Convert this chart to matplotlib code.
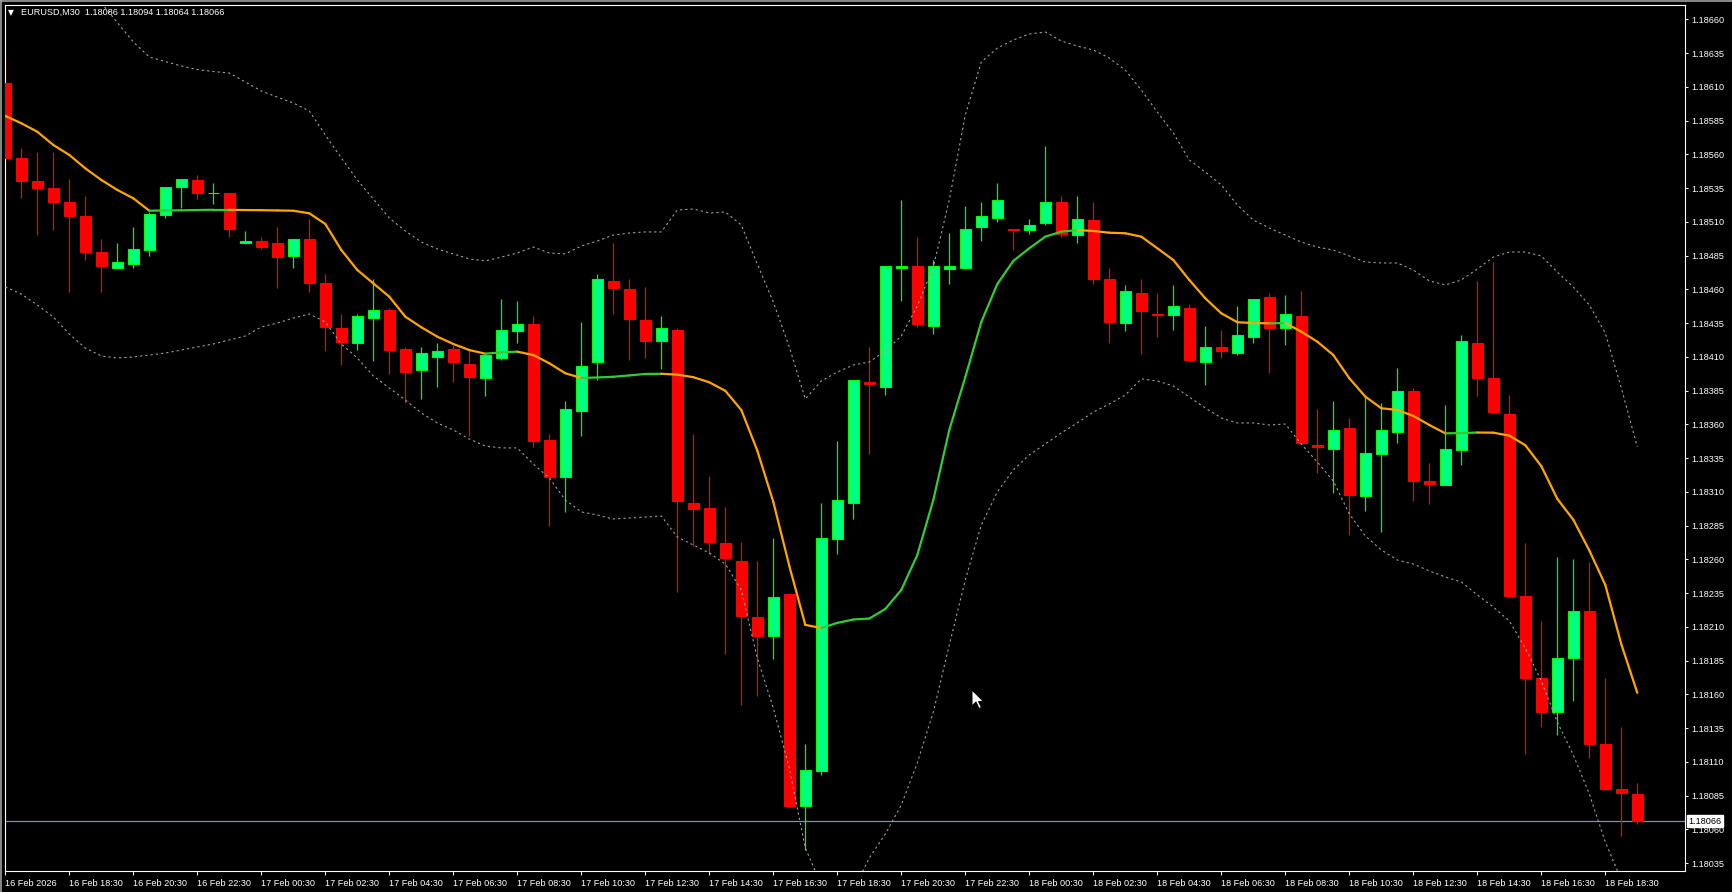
import matplotlib
matplotlib.use('Agg')
import matplotlib.pyplot as plt
from matplotlib.collections import LineCollection
from matplotlib.lines import Line2D
from matplotlib.patches import Polygon
import matplotlib.transforms as mtransforms
import numpy as np

plt.rcParams['font.family'] = ['Liberation Sans', 'DejaVu Sans']
plt.rcParams['lines.scale_dashes'] = False

symbol_title = "EURUSD,M30"

opens = [1.18613,1.18557,1.18540,1.18535,1.18525,1.18514,1.18488,1.18476,1.18479,1.18489,
         1.18515,1.18536,1.18541,1.18531,1.18531,1.18494,1.18496,1.18494,1.18485,1.18497,
         1.18465,1.18431,1.18420,1.18439,1.18445,1.18416,1.18400,1.18410,1.18416,1.18405,
         1.18394,1.18409,1.18429,1.18434,1.18348,1.18321,1.18370,1.18406,1.18466,1.18460,
         1.18437,1.18422,1.18430,1.18302,1.18298,1.18272,1.18259,1.18217,1.18203,1.18234,
         1.18077,1.18103,1.18275,1.18302,1.18391,1.18388,1.18476,1.18477,1.18433,1.18475,
         1.18476,1.18506,1.18513,1.18505,1.18504,1.18509,1.18525,1.18500,1.18511,1.18468,
         1.18435,1.18457,1.18442,1.18441,1.18446,1.18406,1.18417,1.18413,1.18425,1.18454,
         1.18431,1.18440,1.18345,1.18342,1.18357,1.18307,1.18338,1.18354,1.18385,1.18318,
         1.18315,1.18341,1.18420,1.18394,1.18368,1.18233,1.18172,1.18147,1.18187,1.18222,
         1.18123,1.18090,1.18086]

highs = [1.18631,1.18565,1.18562,1.18562,1.18542,1.18529,1.18497,1.18494,1.18506,1.18517,
         1.18536,1.18542,1.18545,1.18539,1.18531,1.18503,1.18499,1.18506,1.18497,1.18512,
         1.18471,1.18442,1.18442,1.18468,1.18446,1.18417,1.18417,1.18420,1.18419,1.18415,
         1.18413,1.18453,1.18451,1.18440,1.18353,1.18377,1.18436,1.18471,1.18494,1.18468,
         1.18462,1.18440,1.18431,1.18353,1.18322,1.18299,1.18273,1.18259,1.18276,1.18235,
         1.18123,1.18302,1.18348,1.18393,1.18417,1.18477,1.18526,1.18499,1.18482,1.18502,
         1.18522,1.18525,1.18539,1.18505,1.18512,1.18566,1.18529,1.18529,1.18525,1.18476,
         1.18463,1.18468,1.18457,1.18463,1.18449,1.18433,1.18430,1.18448,1.18453,1.18457,
         1.18456,1.18459,1.18371,1.18377,1.18365,1.18381,1.18376,1.18402,1.18387,1.18331,
         1.18374,1.18426,1.18466,1.18480,1.18382,1.18272,1.18214,1.18262,1.18260,1.18258,
         1.18172,1.18136,1.18094]

lows = [1.18526,1.18528,1.18500,1.18504,1.18458,1.18482,1.18458,1.18476,1.18476,1.18485,
        1.18513,1.18520,1.18527,1.18523,1.18499,1.18494,1.18490,1.18461,1.18476,1.18458,
        1.18414,1.18404,1.18415,1.18407,1.18397,1.18376,1.18379,1.18388,1.18391,1.18351,
        1.18381,1.18408,1.18420,1.18343,1.18285,1.18295,1.18351,1.18393,1.18442,1.18408,
        1.18409,1.18401,1.18236,1.18270,1.18264,1.18190,1.18152,1.18159,1.18186,1.18077,
        1.18045,1.18100,1.18264,1.18290,1.18338,1.18382,1.18451,1.18432,1.18427,1.18464,
        1.18475,1.18496,1.18510,1.18489,1.18501,1.18508,1.18499,1.18494,1.18464,1.18420,
        1.18429,1.18412,1.18425,1.18430,1.18406,1.18389,1.18409,1.18411,1.18420,1.18398,
        1.18419,1.18346,1.18324,1.18309,1.18278,1.18296,1.18280,1.18346,1.18303,1.18301,
        1.18315,1.18330,1.18381,1.18368,1.18232,1.18116,1.18136,1.18130,1.18155,1.18113,
        1.18089,1.18055,1.18064]

closes = [1.18557,1.18540,1.18535,1.18525,1.18514,1.18488,1.18477,1.18480,1.18490,1.18516,
          1.18536,1.18542,1.18531,1.18531,1.18505,1.18496,1.18491,1.18484,1.18497,1.18465,
          1.18432,1.18421,1.18440,1.18445,1.18415,1.18399,1.18413,1.18414,1.18406,1.18395,
          1.18411,1.18430,1.18434,1.18348,1.18321,1.18371,1.18403,1.18468,1.18461,1.18438,
          1.18422,1.18431,1.18303,1.18297,1.18273,1.18261,1.18218,1.18203,1.18232,1.18077,
          1.18104,1.18276,1.18304,1.18393,1.18390,1.18477,1.18477,1.18434,1.18477,1.18477,
          1.18505,1.18514,1.18526,1.18504,1.18508,1.18525,1.18501,1.18512,1.18468,1.18436,
          1.18459,1.18444,1.18441,1.18448,1.18408,1.18417,1.18414,1.18426,1.18453,1.18431,
          1.18442,1.18346,1.18343,1.18356,1.18308,1.18339,1.18356,1.18385,1.18318,1.18316,
          1.18342,1.18422,1.18394,1.18369,1.18233,1.18172,1.18147,1.18187,1.18222,1.18123,
          1.18090,1.18087,1.18066]

ma_line = [1.185884,1.185830,1.185767,1.185669,1.185595,1.185496,1.185410,1.185336,1.185274,1.185182,
           1.185184,1.185185,1.185187,1.185189,1.185189,1.185187,1.185186,1.185184,1.185182,1.185163,
           1.185084,1.184891,1.184743,1.184644,1.184545,1.184397,1.184319,1.184249,1.184195,1.184150,
           1.184123,1.184133,1.184138,1.184113,1.184052,1.183978,1.183943,1.183947,1.183952,1.183962,
           1.183973,1.183974,1.183968,1.183949,1.183911,1.183848,1.183706,1.183405,1.183025,1.182551,
           1.182114,1.182091,1.182129,1.182154,1.182161,1.182232,1.182373,1.182632,1.183039,1.183558,
           1.183950,1.184358,1.184639,1.184810,1.184904,1.184990,1.185027,1.185039,1.185032,1.185019,
           1.185015,1.184990,1.184904,1.184817,1.184669,1.184533,1.184422,1.184356,1.184350,1.184348,
           1.184350,1.184286,1.184212,1.184113,1.183941,1.183805,1.183719,1.183706,1.183662,1.183595,
           1.183533,1.183535,1.183539,1.183538,1.183516,1.183445,1.183290,1.183048,1.182893,1.182666,
           1.182410,1.181971,1.181611]

upper_start = 5
upper_band = [1.186854,1.186721,1.186576,1.186432,1.186321,1.186287,1.186254,1.186228,1.186213,1.186202,
              1.186136,1.186069,1.186024,1.185980,1.185921,1.185743,1.185573,1.185410,1.185269,1.185128,
              1.185032,1.184950,1.184899,1.184862,1.184825,1.184810,1.184839,1.184869,1.184913,1.184869,
              1.184862,1.184921,1.184958,1.185002,1.185017,1.185025,1.185025,1.185187,1.185195,1.185165,
              1.185173,1.185076,1.184787,1.184506,1.184173,1.183788,1.183921,1.183987,1.184039,1.184062,
              1.184143,1.184254,1.184476,1.184765,1.185262,1.185891,1.186284,1.186387,1.186447,1.186491,
              1.186506,1.186439,1.186402,1.186373,1.186313,1.186224,1.186076,1.185913,1.185758,1.185558,
              1.185469,1.185373,1.185225,1.185113,1.185054,1.185002,1.184950,1.184913,1.184891,1.184847,
              1.184802,1.184795,1.184795,1.184743,1.184662,1.184632,1.184669,1.184750,1.184839,1.184876,
              1.184876,1.184847,1.184728,1.184617,1.184484,1.184276,1.183869,1.183432]

lower_band = [1.184617,1.184565,1.184484,1.184395,1.184269,1.184165,1.184106,1.184091,1.184099,1.184113,
              1.184128,1.184150,1.184173,1.184195,1.184225,1.184254,1.184321,1.184350,1.184387,1.184417,
              1.184358,1.184195,1.184091,1.183958,1.183869,1.183780,1.183684,1.183610,1.183558,1.183491,
              1.183439,1.183425,1.183425,1.183306,1.183202,1.183039,1.182951,1.182928,1.182899,1.182906,
              1.182913,1.182921,1.182765,1.182706,1.182647,1.182565,1.182373,1.181869,1.181499,1.181054,
              1.180462,1.180188,1.180077,1.180151,1.180388,1.180565,1.180780,1.181091,1.181469,1.181965,
              1.182447,1.182854,1.183099,1.183262,1.183373,1.183454,1.183536,1.183610,1.183691,1.183750,
              1.183817,1.183936,1.183921,1.183884,1.183802,1.183721,1.183647,1.183610,1.183610,1.183595,
              1.183602,1.183454,1.183321,1.183180,1.182936,1.182773,1.182669,1.182595,1.182565,1.182514,
              1.182469,1.182432,1.182336,1.182247,1.182143,1.181943,1.181699,1.181395,1.181151,1.180862,
              1.180506,1.180225,1.179928]

price_ticks = [1.18035,1.18060,1.18085,1.18110,1.18135,1.18160,1.18185,1.18210,1.18235,1.18260,
               1.18285,1.18310,1.18335,1.18360,1.18385,1.18410,1.18435,1.18460,1.18485,1.18510,
               1.18535,1.18560,1.18585,1.18610,1.18635,1.18660]

time_tick_bars = [0,4,8,12,16,20,24,28,32,36,40,44,48,52,56,60,64,68,72,76,80,84,88,92,96,100]
time_tick_labels = ["16 Feb 2026","16 Feb 18:30","16 Feb 20:30","16 Feb 22:30","17 Feb 00:30",
                    "17 Feb 02:30","17 Feb 04:30","17 Feb 06:30","17 Feb 08:30","17 Feb 10:30",
                    "17 Feb 12:30","17 Feb 14:30","17 Feb 16:30","17 Feb 18:30","17 Feb 20:30",
                    "17 Feb 22:30","18 Feb 00:30","18 Feb 02:30","18 Feb 04:30","18 Feb 06:30",
                    "18 Feb 08:30","18 Feb 10:30","18 Feb 12:30","18 Feb 14:30","18 Feb 16:30",
                    "18 Feb 18:30"]

# ---------------------------------------------------------------- figure
W, H = 1733, 892
fig = plt.figure(figsize=(W / 100, H / 100), dpi=100, facecolor='black')
L, R, T, B = 4.5, 1685, 4.7, 871
ax = fig.add_axes([L / W, 1 - B / H, (R - L) / W, (B - T) / H], facecolor='black')

x = np.arange(len(opens))
o = np.array(opens); h = np.array(highs); l = np.array(lows); c = np.array(closes)
bull = c >= o

# current price line
ax.axhline(closes[-1], color='#8090A0', lw=0.9, zorder=1)

# candles
ax.vlines(x[bull], l[bull], h[bull], color='#00FF00', lw=0.9, zorder=2)
ax.vlines(x[~bull], l[~bull], h[~bull], color='#FF0000', lw=0.9, zorder=2)
body_w = 0.66
ax.bar(x[bull], (c - o)[bull], bottom=o[bull], width=body_w, color='#00FF7F',
       edgecolor='#00FF00', linewidth=0.8, zorder=3)
ax.bar(x[~bull], (o - c)[~bull], bottom=c[~bull], width=body_w, color='#FF0000',
       edgecolor='#FF0000', linewidth=0.8, zorder=3)

# bands
ax.plot(np.arange(upper_start, upper_start + len(upper_band)), upper_band,
        color='#A0A0A0', lw=0.8, linestyle=(0, (1.6, 2.2)), zorder=4)
ax.plot(np.arange(len(lower_band)), lower_band,
        color='#A0A0A0', lw=0.8, linestyle=(0, (1.6, 2.2)), zorder=4)

# coloured moving average
ma = np.array(ma_line)
segs = [[(i - 1, ma[i - 1]), (i, ma[i])] for i in range(1, len(ma))]
cols = ['#32CD32' if ma[i] >= ma[i - 1] else '#FFA500' for i in range(1, len(ma))]
ax.add_collection(LineCollection(segs, colors=cols, linewidths=1.6, zorder=5,
                                 capstyle='round'))

# axes limits (pixel-matched)
ax.set_xlim((L - 5.3) / 16, (R - 5.3) / 16)
ax.set_ylim(1.18660 - (B - 19.3) / 135000, 1.18660 + (19.3 - T) / 135000)

for s in ax.spines.values():
    s.set_color('white')
    s.set_linewidth(0.8)

ax.yaxis.tick_right()
ax.set_yticks(price_ticks)
ax.set_yticklabels([f"{p:.5f}" for p in price_ticks])
ax.tick_params(axis='y', colors='white', direction='out', length=2.5, width=0.7,
               pad=2.0, labelsize=6.6)
ax.set_xticks(time_tick_bars)
ax.set_xticklabels(time_tick_labels, ha='left')
ax.tick_params(axis='x', colors='white', direction='out', length=3.0, width=0.7,
               pad=3.0, labelsize=6.6)
for lab in ax.get_xticklabels():
    lab.set_horizontalalignment('left')

# price box for last close
tr = mtransforms.blended_transform_factory(ax.transAxes, ax.transData)
ax.text(1.0022, closes[-1], f"{closes[-1]:.5f}", transform=tr, color='black',
        fontsize=6.6, va='center', ha='left', clip_on=False, zorder=10,
        bbox=dict(boxstyle='square,pad=0.18', fc='white', ec='white'))

# header
fig.text(11 / W, 1 - 12.7 / H, '\u25BC', color='white', fontsize=5.5,
         ha='center', va='center', family=['DejaVu Sans'])
fig.text(20.7 / W, 1 - 12.7 / H,
         f"{symbol_title}  {opens[-1]:.5f} {highs[-1]:.5f} {lows[-1]:.5f} {closes[-1]:.5f}",
         color='white', fontsize=6.6, ha='left', va='center')

# mouse pointer left in the screenshot
cx, cy = 972.0, 690.0
arrow = [(0, 0), (0, 16), (4, 12), (7, 18.5), (9.5, 17.5), (6.5, 11.5), (11.5, 11.5)]
fig.add_artist(Polygon([((cx + dx) / W, 1 - (cy + dy) / H) for dx, dy in arrow],
                       closed=True, transform=fig.transFigure, facecolor='white',
                       edgecolor='black', linewidth=0.7, zorder=20))

# window border
fig.add_artist(Line2D([0, 1], [1 - 0.8 / H] * 2, transform=fig.transFigure,
                      color='#A0A0A0', lw=1.2))
fig.add_artist(Line2D([0.6 / W] * 2, [0, 1], transform=fig.transFigure,
                      color='#A0A0A0', lw=1.2))

fig.savefig('out.png', dpi=100, facecolor='black')
